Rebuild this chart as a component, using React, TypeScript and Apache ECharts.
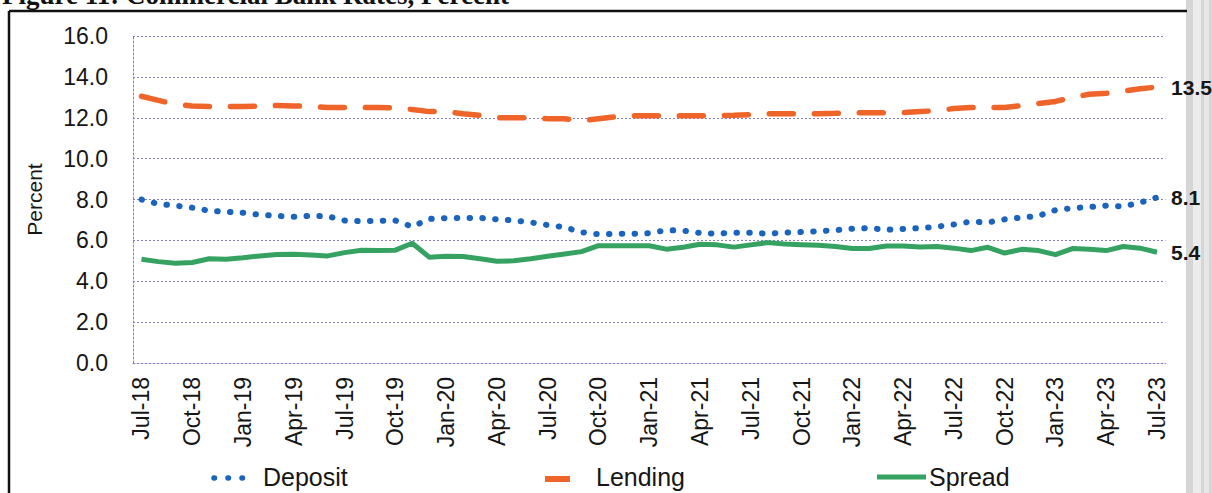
import React, { useEffect, useRef } from "react";
import * as echarts from "echarts";

const categories = [
  "Jul-18","Aug-18","Sep-18","Oct-18","Nov-18","Dec-18",
  "Jan-19","Feb-19","Mar-19","Apr-19","May-19","Jun-19",
  "Jul-19","Aug-19","Sep-19","Oct-19","Nov-19","Dec-19",
  "Jan-20","Feb-20","Mar-20","Apr-20","May-20","Jun-20",
  "Jul-20","Aug-20","Sep-20","Oct-20","Nov-20","Dec-20",
  "Jan-21","Feb-21","Mar-21","Apr-21","May-21","Jun-21",
  "Jul-21","Aug-21","Sep-21","Oct-21","Nov-21","Dec-21",
  "Jan-22","Feb-22","Mar-22","Apr-22","May-22","Jun-22",
  "Jul-22","Aug-22","Sep-22","Oct-22","Nov-22","Dec-22",
  "Jan-23","Feb-23","Mar-23","Apr-23","May-23","Jun-23",
  "Jul-23",
];

const deposit = [
  8.0, 7.78, 7.7, 7.6, 7.45, 7.4,
  7.35, 7.25, 7.2, 7.15, 7.2, 7.18,
  6.97, 6.94, 6.96, 6.97, 6.67, 7.05,
  7.09, 7.09, 7.1, 7.03, 6.98, 6.88,
  6.75, 6.64, 6.4, 6.3, 6.32, 6.32,
  6.35, 6.5, 6.48, 6.36, 6.33, 6.38,
  6.37, 6.33, 6.38, 6.41, 6.45, 6.5,
  6.57, 6.6, 6.52, 6.56, 6.6, 6.67,
  6.78, 6.92, 6.88, 7.03, 7.12, 7.2,
  7.48, 7.58, 7.63, 7.7, 7.66, 7.85,
  8.1,
];

const lending = [
  13.05, 12.85, 12.65, 12.58, 12.55, 12.55,
  12.55, 12.57, 12.6, 12.58, 12.55, 12.5,
  12.5, 12.5, 12.5, 12.48, 12.4, 12.3,
  12.3, 12.2, 12.12, 12.0, 12.0, 12.0,
  11.95, 11.95, 11.85, 11.95, 12.05, 12.1,
  12.1, 12.1, 12.1, 12.1, 12.1, 12.12,
  12.15, 12.2, 12.2, 12.2, 12.2, 12.22,
  12.25, 12.25, 12.25, 12.25, 12.3, 12.35,
  12.45, 12.5, 12.5, 12.5, 12.6, 12.7,
  12.8, 13.0, 13.15, 13.2, 13.3, 13.42,
  13.5,
];

const spread = [
  5.08, 4.96, 4.88, 4.92, 5.1, 5.08,
  5.15, 5.24, 5.31, 5.32, 5.29, 5.24,
  5.4, 5.52, 5.5, 5.52, 5.86, 5.18,
  5.22, 5.21, 5.1, 4.98, 5.0, 5.1,
  5.22, 5.33, 5.45, 5.74, 5.74, 5.74,
  5.74, 5.57, 5.66, 5.81, 5.78, 5.67,
  5.78, 5.89, 5.82, 5.79, 5.76, 5.7,
  5.6, 5.6, 5.72, 5.72, 5.67, 5.7,
  5.62, 5.5, 5.66, 5.38, 5.56, 5.5,
  5.3, 5.6, 5.57, 5.5, 5.7, 5.62,
  5.42,
];

const seriesNames = ["Deposit", "Lending", "Spread"];
const titleText = "Figure 11: Commercial Bank Rates, Percent";

const BLUE = "#1a64bd";
const ORANGE = "#ef6529";
const GREEN = "#36a262";
const GRID = "#837ec2";
const TEXT = "#161616";
const SANS = '"Liberation Sans", Arial, sans-serif';

export default function App() {
  const ref = useRef<HTMLDivElement>(null);

  useEffect(() => {
    if (!ref.current) return;
    const chart = echarts.init(ref.current, null, { renderer: "svg" });

    const endLabel = {
      show: true,
      distance: 14,
      formatter: (p: any) => Number(p.value).toFixed(1),
      fontFamily: SANS,
      fontWeight: "bold",
      fontSize: 21,
      color: TEXT,
    };

    const option: any = {
      animation: false,
      backgroundColor: "#ffffff",
      grid: { left: 133, right: 46.5, top: 36, bottom: 130, containLabel: false },
      xAxis: {
        type: "category",
        data: categories,
        boundaryGap: true,
        axisLine: { show: true, lineStyle: { color: GRID, width: 1, type: [2, 2] } },
        axisTick: { show: false },
        axisLabel: {
          interval: 2,
          rotate: 90,
          margin: 14,
          fontFamily: SANS,
          fontSize: 23,
          color: TEXT,
        },
        splitLine: { show: false },
      },
      yAxis: {
        type: "value",
        min: 0,
        max: 16,
        interval: 2,
        name: "Percent",
        nameLocation: "middle",
        nameGap: 88,
        nameRotate: 90,
        nameTextStyle: { fontFamily: SANS, fontSize: 21, color: TEXT },
        axisLine: { show: true, lineStyle: { color: GRID, width: 1, type: [2, 2] } },
        axisTick: { show: false },
        axisLabel: {
          margin: 25,
          formatter: (v: number) => v.toFixed(1),
          fontFamily: SANS,
          fontSize: 23,
          color: TEXT,
        },
        splitLine: { show: true, lineStyle: { color: GRID, width: 1, type: [2, 2] } },
      },
      series: [
        {
          name: seriesNames[0],
          type: "line",
          data: deposit,
          showSymbol: false,
          symbol: "none",
          lineStyle: { color: BLUE, width: 6, type: [0.5, 12.3], cap: "round" },
          itemStyle: { color: BLUE },
          endLabel,
          z: 3,
        },
        {
          name: seriesNames[1],
          type: "line",
          data: lending,
          showSymbol: false,
          symbol: "none",
          lineStyle: { color: ORANGE, width: 5.5, type: [24, 21], cap: "round" },
          itemStyle: { color: ORANGE },
          endLabel,
          z: 3,
        },
        {
          name: seriesNames[2],
          type: "line",
          data: spread,
          showSymbol: false,
          symbol: "none",
          lineStyle: { color: GREEN, width: 5, type: "solid", join: "round" },
          itemStyle: { color: GREEN },
          endLabel,
          z: 2,
        },
      ],
      graphic: [
        // scanned page binding strip on the right
        { type: "rect", z: -10, shape: { x: 1186, y: 0, width: 26, height: 493 }, style: { fill: "#d6d6d6" } },
        { type: "rect", z: -9, shape: { x: 1193, y: 0, width: 8, height: 493 }, style: { fill: "#ececec" } },
        { type: "rect", z: -9, shape: { x: 1204, y: 0, width: 5, height: 493 }, style: { fill: "#e6e6e6" } },
        // frame
        { type: "line", shape: { x1: 9, y1: 11, x2: 1187, y2: 11 }, style: { stroke: "#111", lineWidth: 2.5 } },
        { type: "line", shape: { x1: 9, y1: 11, x2: 9, y2: 493 }, style: { stroke: "#111", lineWidth: 2.5 } },
        // title (cut at top, as in the scanned page)
        {
          type: "text",
          x: 2,
          y: -5,
          style: {
            text: titleText,
            font: 'bold 27px "Liberation Serif", "Times New Roman", serif',
            fill: "#111",
            verticalAlign: "middle",
          },
        },
        // legend
        {
          type: "line",
          shape: { x1: 214, y1: 478, x2: 256, y2: 478 },
          style: { stroke: BLUE, lineWidth: 5.5, lineDash: [0.5, 13.5], lineCap: "round" },
        },
        {
          type: "text",
          x: 263,
          y: 477,
          style: { text: seriesNames[0], font: "25px " + SANS, fill: TEXT, verticalAlign: "middle" },
        },
        {
          type: "line",
          shape: { x1: 545, y1: 479, x2: 570, y2: 479 },
          style: { stroke: ORANGE, lineWidth: 6 },
        },
        {
          type: "text",
          x: 596,
          y: 477,
          style: { text: seriesNames[1], font: "25px " + SANS, fill: TEXT, verticalAlign: "middle" },
        },
        {
          type: "line",
          shape: { x1: 877, y1: 477, x2: 926, y2: 477 },
          style: { stroke: GREEN, lineWidth: 5 },
        },
        {
          type: "text",
          x: 929,
          y: 477,
          style: { text: seriesNames[2], font: "25px " + SANS, fill: TEXT, verticalAlign: "middle" },
        },
      ],
    };

    chart.setOption(option);
    return () => chart.dispose();
  }, []);

  return (
    <div
      ref={ref}
      style={{ position: "fixed", left: 0, top: 0, width: 1212, height: 493, background: "#fff" }}
    />
  );
}
